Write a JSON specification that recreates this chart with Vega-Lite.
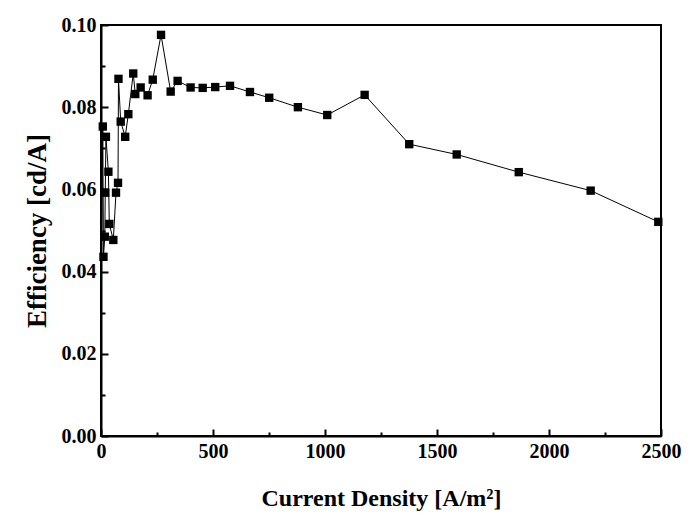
{
  "$schema": "https://vega.github.io/schema/vega-lite/v6.json",
  "autosize": "none",
  "width": 560,
  "height": 411,
  "padding": {"left": 101, "top": 25, "right": 32, "bottom": 92},
  "background": "white",
  "config": {
    "view": {"stroke": "black", "strokeWidth": 2},
    "font": "Liberation Serif"
  },
  "data": {
    "values": [
      {"j": 0, "eff": 0.0324, "mk": false},
      {"j": 8, "eff": 0.0753, "mk": true},
      {"j": 11, "eff": 0.0436, "mk": true},
      {"j": 17, "eff": 0.0485, "mk": true},
      {"j": 19, "eff": 0.0592, "mk": true},
      {"j": 22, "eff": 0.0728, "mk": true},
      {"j": 33, "eff": 0.0643, "mk": true},
      {"j": 37, "eff": 0.0516, "mk": true},
      {"j": 55, "eff": 0.0477, "mk": true},
      {"j": 67, "eff": 0.0592, "mk": true},
      {"j": 76, "eff": 0.0616, "mk": true},
      {"j": 78, "eff": 0.0869, "mk": true},
      {"j": 88, "eff": 0.0765, "mk": true},
      {"j": 108, "eff": 0.0728, "mk": true},
      {"j": 122, "eff": 0.0783, "mk": true},
      {"j": 144, "eff": 0.0882, "mk": true},
      {"j": 153, "eff": 0.0832, "mk": true},
      {"j": 177, "eff": 0.0848, "mk": true},
      {"j": 208, "eff": 0.0829, "mk": true},
      {"j": 231, "eff": 0.0867, "mk": true},
      {"j": 268, "eff": 0.0976, "mk": true},
      {"j": 311, "eff": 0.0838, "mk": true},
      {"j": 342, "eff": 0.0864, "mk": true},
      {"j": 400, "eff": 0.0848, "mk": true},
      {"j": 454, "eff": 0.0847, "mk": true},
      {"j": 510, "eff": 0.0849, "mk": true},
      {"j": 576, "eff": 0.0852, "mk": true},
      {"j": 665, "eff": 0.0837, "mk": true},
      {"j": 751, "eff": 0.0823, "mk": true},
      {"j": 879, "eff": 0.0800, "mk": true},
      {"j": 1010, "eff": 0.0781, "mk": true},
      {"j": 1177, "eff": 0.0830, "mk": true},
      {"j": 1376, "eff": 0.0710, "mk": true},
      {"j": 1588, "eff": 0.0685, "mk": true},
      {"j": 1865, "eff": 0.0642, "mk": true},
      {"j": 2186, "eff": 0.0597, "mk": true},
      {"j": 2488, "eff": 0.0521, "mk": true}
    ]
  },
  "encoding": {
    "x": {
      "field": "j", "type": "quantitative",
      "scale": {"domain": [0, 2500], "nice": false, "zero": false},
      "axis": {
        "title": "Current Density [A/m²]",
        "values": [0, 250, 500, 750, 1000, 1250, 1500, 1750, 2000, 2250, 2500],
        "labelExpr": "datum.value % 500 == 0 ? format(datum.value, 'd') : ''",
        "grid": false,
        "zindex": 1,
        "domainColor": "black", "domainWidth": 2,
        "ticks": true,
        "tickColor": "black", "tickWidth": 2,
        "tickSize": {"condition": {"test": "datum.value % 500 == 0", "value": -7}, "value": -4},
        "labelPadding": 12,
        "labelFont": "Liberation Serif", "labelFontWeight": "bold", "labelFontSize": 20, "labelColor": "black",
        "titleFont": "Liberation Serif", "titleFontWeight": "bold", "titleFontSize": 24, "titleColor": "black",
        "titlePadding": 22,
        "labelFlush": false, "labelOverlap": false
      }
    },
    "y": {
      "field": "eff", "type": "quantitative",
      "scale": {"domain": [0, 0.1], "nice": false},
      "axis": {
        "title": "Efficiency [cd/A]",
        "values": [0, 0.01, 0.02, 0.03, 0.04, 0.05, 0.06, 0.07, 0.08, 0.09, 0.1],
        "labelExpr": "round(datum.value * 100) % 2 == 0 ? format(datum.value, '.2f') : ''",
        "grid": false,
        "zindex": 1,
        "domainColor": "black", "domainWidth": 2,
        "ticks": true,
        "tickColor": "black", "tickWidth": 2,
        "tickSize": {"condition": {"test": "round(datum.value * 100) % 2 == 0", "value": -7}, "value": -4},
        "labelPadding": 12,
        "labelFont": "Liberation Serif", "labelFontWeight": "bold", "labelFontSize": 20, "labelColor": "black",
        "titleFont": "Liberation Serif", "titleFontWeight": "bold", "titleFontSize": 27, "titleColor": "black",
        "titlePadding": 10,
        "labelFlush": false, "labelOverlap": false
      }
    }
  },
  "layer": [
    {"mark": {"type": "line", "color": "black", "strokeWidth": 1}},
    {"transform": [{"filter": "datum.mk"}], "mark": {"type": "square", "color": "black", "opacity": 1, "filled": true, "size": 70}}
  ]
}
